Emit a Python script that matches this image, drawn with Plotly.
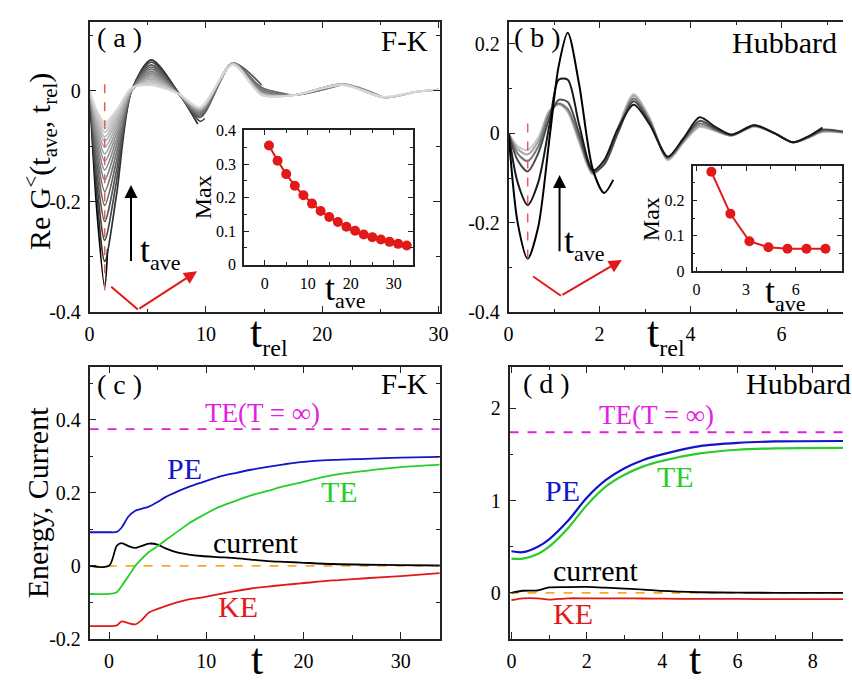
import plotly.graph_objects as go

W, H = 852, 682
def X(p): return p / W
def Y(p): return 1 - p / H

FONT = "Liberation Serif"

# ---------------- panel (a): F-K, Re G<(t_ave, t_rel) ----------------
A_T = [0, 0.6, 1.3, 2.3, 3.6, 5.3, 7.6, 9.5, 12.3, 14.8, 17.5, 21.8, 25.3, 28, 30]
A_Y = [
    [0, -0.21, -0.355],
    [0, -0.185, -0.308, -0.19, 0.0, 0.056, -0.002],
    [0, -0.162, -0.27, -0.165, 0.0, 0.052, -0.003, -0.055],
    [0, -0.142, -0.236, -0.145, 0.0, 0.047, -0.004, -0.048, 0.05, 0.01],
    [0, -0.124, -0.207, -0.128, 0.0, 0.043, -0.004, -0.045, 0.05, 0.006, -0.008],
    [0, -0.109, -0.182, -0.113, 0.0, 0.039, -0.005, -0.042, 0.05, 0.003, -0.008, 0.012],
    [0, -0.097, -0.161, -0.100, 0.0, 0.035, -0.005, -0.040, 0.05, 0.0, -0.008, 0.012],
    [0, -0.086, -0.143, -0.089, 0.0, 0.032, -0.005, -0.038, 0.05, -0.002, -0.008, 0.012, -0.012],
    [0, -0.076, -0.127, -0.079, 0.0, 0.029, -0.005, -0.036, 0.05, -0.003, -0.008, 0.012, -0.012],
    [0, -0.068, -0.114, -0.071, 0.0, 0.026, -0.005, -0.035, 0.049, -0.004, -0.008, 0.012, -0.012, -0.002],
    [0, -0.061, -0.102, -0.063, 0.0, 0.023, -0.005, -0.034, 0.049, -0.005, -0.008, 0.012, -0.012, -0.002, 0.002],
    [0, -0.055, -0.091, -0.056, 0.002, 0.021, -0.005, -0.033, 0.049, -0.006, -0.008, 0.012, -0.012, -0.002, 0.002],
    [0, -0.050, -0.083, -0.051, 0.003, 0.018, -0.005, -0.032, 0.048, -0.006, -0.008, 0.011, -0.012, -0.002, 0.002],
    [0, -0.045, -0.075, -0.046, 0.004, 0.016, -0.005, -0.031, 0.048, -0.007, -0.008, 0.011, -0.012, -0.002, 0.002],
    [0, -0.041, -0.068, -0.042, 0.004, 0.014, -0.005, -0.031, 0.048, -0.007, -0.008, 0.011, -0.012, -0.002, 0.002],
    [0, -0.037, -0.062, -0.038, 0.005, 0.012, -0.005, -0.030, 0.048, -0.008, -0.008, 0.011, -0.011, -0.002, 0.002],
    [0, -0.034, -0.057, -0.035, 0.005, 0.010, -0.005, -0.030, 0.047, -0.008, -0.008, 0.010, -0.011, -0.002, 0.002],
]
A_END_T = [1.55, 9.3, 9.9] + [None] * 14
A_END_Y = [-0.286, -0.06, -0.05] + [None] * 14

# inset (a)
IA_T = [1, 3, 5, 7, 9, 11, 13, 15, 17, 19, 21, 23, 25, 27, 29, 31, 33]
IA_MAX = [0.355, 0.31, 0.27, 0.235, 0.207, 0.182, 0.16, 0.142, 0.127, 0.113,
          0.101, 0.09, 0.082, 0.075, 0.068, 0.062, 0.057]

# ---------------- panel (b): Hubbard ----------------
B_T = [0, 0.2, 0.42, 0.65, 0.9, 1.1, 1.3, 1.55, 1.85, 2.1, 2.4, 2.75, 3.1, 3.5,
       3.85, 4.2, 4.55, 4.9, 5.4, 5.85, 6.25, 6.6, 6.9, 7.35]
B_Y = [
    [0, -0.2, -0.28, -0.21, -0.01, 0.15, 0.225, 0.11, -0.08, -0.133],
    [0, -0.11, -0.16, -0.11, 0.02, 0.12, 0.12, 0.02, -0.082, -0.06, 0.01, 0.064, 0.02,
     -0.052, -0.01, 0.036, 0.014, -0.003, 0.018, 0.0, -0.02, -0.006, 0.013],
    [0, -0.06, -0.085, -0.045, 0.035, 0.075, 0.07, 0.0, -0.085, -0.07, 0.0, 0.072, 0.025,
     -0.053, -0.012, 0.028, 0.01, -0.003, 0.018, 0.0, -0.02, -0.007, 0.008, 0.004],
    [0, -0.045, -0.062, -0.03, 0.045, 0.067, 0.055, -0.01, -0.088, -0.067, 0.005, 0.078, 0.028,
     -0.055, -0.015, 0.022, 0.008, -0.004, 0.017, 0.0, -0.02, -0.008, 0.006, 0.003],
    [0, -0.035, -0.047, -0.018, 0.05, 0.066, 0.05, -0.015, -0.09, -0.066, 0.01, 0.084, 0.032,
     -0.058, -0.018, 0.017, 0.006, -0.005, 0.016, 0.0, -0.02, -0.009, 0.004, 0.002],
    [0, -0.028, -0.037, -0.01, 0.052, 0.065, 0.048, -0.02, -0.092, -0.064, 0.012, 0.088, 0.035,
     -0.06, -0.02, 0.014, 0.005, -0.005, 0.015, 0.0, -0.02, -0.01, 0.003, 0.002],
]
B_END_T = [2.3, None, None, None, None, None]
B_END_Y = [-0.104, None, None, None, None, None]

# inset (b)
IB_T = [0.9, 2.05, 3.2, 4.35, 5.5, 6.65, 7.8]
IB_MAX = [0.28, 0.162, 0.085, 0.068, 0.064, 0.064, 0.064]

# ---------------- panel (c): F-K energies ----------------
C_T = [-2, 0, 0.8, 1.3, 2.0, 2.7, 3.3, 4.1, 5.0, 5.8, 7.0, 8.2, 9.5, 11.2, 13,
       14.6, 16.3, 18, 19.7, 23, 26.4, 30, 34]
C_PE = [0.092, 0.092, 0.093, 0.105, 0.135, 0.151, 0.156, 0.162, 0.175, 0.188, 0.203,
        0.216, 0.228, 0.243, 0.254, 0.263, 0.271, 0.278, 0.284, 0.29, 0.293, 0.296, 0.298]
C_TE = [-0.077, -0.077, -0.072, -0.055, -0.028, 0.0, 0.018, 0.038, 0.054, 0.07, 0.093,
        0.116, 0.136, 0.16, 0.178, 0.193, 0.205, 0.218, 0.228, 0.248, 0.26, 0.27, 0.277]
C_KE = [-0.165, -0.165, -0.163, -0.152, -0.157, -0.16, -0.15, -0.128, -0.118, -0.11,
        -0.1, -0.092, -0.087, -0.078, -0.069, -0.062, -0.057, -0.052, -0.048, -0.04,
        -0.034, -0.028, -0.02]
C_CUR = [0, 0, 0.055, 0.062, 0.054, 0.049, 0.054, 0.061, 0.058, 0.048, 0.037, 0.031,
         0.027, 0.024, 0.021, 0.017, 0.013, 0.011, 0.009, 0.005, 0.003, 0.002, 0.001]
C_TE_INF = 0.374
C_XLIM = [-2, 34]

# ---------------- panel (d): Hubbard energies ----------------
D_T = [0, 0.3, 0.7, 1.0, 1.5, 2.0, 2.5, 3.0, 3.5, 4.0, 5.0, 6.0, 7.0, 8.8]
D_PE = [0.45, 0.44, 0.5, 0.58, 0.78, 1.03, 1.22, 1.35, 1.44, 1.5, 1.59, 1.625, 1.64, 1.645]
D_TE = [0.37, 0.37, 0.42, 0.5, 0.7, 0.95, 1.15, 1.28, 1.37, 1.43, 1.51, 1.55, 1.565, 1.57]
D_KE = [-0.08, -0.06, -0.06, -0.075, -0.06, -0.06, -0.06, -0.06, -0.062, -0.064,
        -0.066, -0.067, -0.068, -0.068]
D_CUR = [0, 0.022, 0.027, 0.058, 0.062, 0.063, 0.055, 0.045, 0.035, 0.02, 0.006, 0.001, 0, 0]
D_TE_INF = 1.74
D_XLIM = [-0.05, 8.8]

BLUE = "rgb(20,20,200)"
GREEN = "rgb(40,205,40)"
RED = "rgb(225,25,25)"
MAG = "rgb(225,30,225)"
ORANGE = "rgb(245,170,40)"

fig = go.Figure()

def curve(x, y, xa, ya, color, width=1.8, dash=None, shape="spline"):
    fig.add_trace(go.Scatter(x=x, y=y, xaxis=xa, yaxis=ya, mode="lines",
                             line=dict(color=color, width=width, dash=dash, shape=shape,
                                       smoothing=0.8 if shape == "spline" else None),
                             showlegend=False, hoverinfo="skip"))

# panel a curves (dark first, lighter on top as in the tails of the reference)
nA = len(A_Y)
for k in range(nA):
    xs = A_T[:len(A_Y[k])]
    ys = list(A_Y[k])
    if A_END_T[k] is not None:
        xs = xs + [A_END_T[k]]
        ys = ys + [A_END_Y[k]]
    g = int(round(215 * (k / (nA - 1)) ** 0.55))
    curve(xs, ys, "x", "y", f"rgb({g},{g},{g})", 1.7)

# panel b curves
nB = len(B_Y)
B_GRAY = [0, 25, 75, 120, 165, 200]
for k in reversed(range(nB)):
    xs = B_T[:len(B_Y[k])]
    ys = list(B_Y[k])
    if B_END_T[k] is not None:
        xs = xs + [B_END_T[k]]
        ys = ys + [B_END_Y[k]]
    g = B_GRAY[k]
    curve(xs, ys, "x2", "y2", f"rgb({g},{g},{g})", 2.0)

# panel c
curve(C_XLIM, [C_TE_INF, C_TE_INF], "x3", "y3", MAG, 1.8, "dash", "linear")
curve(C_XLIM, [0, 0], "x3", "y3", ORANGE, 1.8, "dash", "linear")
curve(C_T, C_CUR, "x3", "y3", "black", 1.8)
curve(C_T, C_KE, "x3", "y3", RED, 1.8)
curve(C_T, C_TE, "x3", "y3", GREEN, 1.8)
curve(C_T, C_PE, "x3", "y3", BLUE, 1.8)

# panel d
curve(D_XLIM, [D_TE_INF, D_TE_INF], "x4", "y4", MAG, 1.8, "dash", "linear")
curve(D_XLIM, [0, 0], "x4", "y4", ORANGE, 1.8, "dash", "linear")
curve(D_T, D_CUR, "x4", "y4", "black", 1.8)
curve(D_T, D_KE, "x4", "y4", RED, 1.8)
curve(D_T, D_TE, "x4", "y4", GREEN, 2.2)
curve(D_T, D_PE, "x4", "y4", BLUE, 2.2)

# insets
fig.add_trace(go.Scatter(x=IA_T, y=IA_MAX, xaxis="x5", yaxis="y5", mode="lines+markers",
                         line=dict(color=RED, width=2), marker=dict(color=RED, size=10),
                         showlegend=False, hoverinfo="skip"))
fig.add_trace(go.Scatter(x=IB_T, y=IB_MAX, xaxis="x6", yaxis="y6", mode="lines+markers",
                         line=dict(color=RED, width=2), marker=dict(color=RED, size=10),
                         showlegend=False, hoverinfo="skip"))

LC = "#222"
def axis(domain, rng, tv, tt, minor_dtick, anchor, size=20, mirror="allticks",
         ticklen=7, mlen=4, minor_tick0=0):
    return dict(domain=domain, range=rng, tickmode="array", tickvals=tv, ticktext=tt,
                ticks="inside", ticklen=ticklen, tickwidth=1, tickcolor=LC,
                showline=True, linecolor=LC, linewidth=1.5, mirror=mirror,
                showgrid=False, zeroline=False, anchor=anchor,
                tickfont=dict(family=FONT, size=size, color="black"),
                ticklabelstandoff=3,
                minor=dict(tickmode="linear", tick0=minor_tick0, dtick=minor_dtick,
                           ticks="inside", ticklen=mlen, tickwidth=1, tickcolor=LC,
                           showgrid=False))

A_XT = [0, 10, 20, 30]
A_YT = [0, -0.2, -0.4]
B_XT = [0, 2, 4, 6]
B_YT = [0.2, 0, -0.2, -0.4]
C_XT = [0, 10, 20, 30]
C_YT = [0.4, 0.2, 0, -0.2]
D_XT = [0, 2, 4, 6, 8]
D_YT = [2, 1, 0]
IA_XT = [0, 10, 20, 30]
IA_YT = [0, 0.1, 0.2, 0.3, 0.4]
IB_XT = [0, 3, 6]
IB_YT = [0, 0.1, 0.2]

def lab(v):
    return "%g" % v

dom_a = [X(86), X(442)]
dom_b = [X(512), 1.0]
dom_top = [Y(313), Y(14)]
dom_c = [X(86), X(442)]
dom_d = [X(513), 1.0]
dom_bot = [Y(649), Y(369)]

fig.update_layout(
    width=W, height=H, margin=dict(l=0, r=0, t=0, b=0),
    paper_bgcolor="white", plot_bgcolor="rgba(0,0,0,0)",
    xaxis=axis(dom_a, [0, 30.1], A_XT, [lab(v) for v in A_XT], 5, "y"),
    yaxis=axis(dom_top, [-0.4, 0.125], A_YT, [lab(v) for v in A_YT], 0.1, "x"),
    xaxis2=axis(dom_b, [0, 7.35], B_XT, [lab(v) for v in B_XT], 1, "y2"),
    yaxis2=axis(dom_top, [-0.4, 0.25], B_YT, [lab(v) for v in B_YT], 0.1, "x2", mirror=False),
    xaxis3=axis(dom_c, C_XLIM, C_XT, [lab(v) for v in C_XT], 5, "y3"),
    yaxis3=axis(dom_bot, [-0.2, 0.545], C_YT, [lab(v) for v in C_YT], 0.1, "x3"),
    xaxis4=axis(dom_d, D_XLIM, D_XT, [lab(v) for v in D_XT], 1, "y4"),
    yaxis4=axis(dom_bot, [-0.5, 2.45], D_YT, [lab(v) for v in D_YT], 0.5, "x4", mirror=False),
    xaxis5=axis([X(243), X(415)], [-4.8, 34.5], IA_XT, [lab(v) for v in IA_XT], 5, "y5",
                size=16, ticklen=5, mlen=3),
    yaxis5=axis([Y(264), Y(126)], [0, 0.4], IA_YT, [lab(v) for v in IA_YT], 0.05, "x5",
                size=16, ticklen=5, mlen=3),
    xaxis6=axis([X(699), X(851)], [-0.24, 8.8], IB_XT, [lab(v) for v in IB_XT], 1.5, "y6",
                size=16, ticklen=5, mlen=3),
    yaxis6=axis([Y(271), Y(163)], [0, 0.295], IB_YT, [lab(v) for v in IB_YT], 0.05, "x6",
                size=16, ticklen=5, mlen=3),
)

ann = []
def text(t, x, y, size, color="black", xanchor="center", yanchor="middle", angle=0):
    ann.append(dict(text=t, x=X(x), y=Y(y), xref="paper", yref="paper", showarrow=False,
                    xanchor=xanchor, yanchor=yanchor, textangle=angle,
                    font=dict(family=FONT, size=size, color=color)))

def tsub(sub, big, small):
    return 't<sub><span style="font-size:%dpx">%s</span></sub>' % (small, sub)

# panel a texts
text("( a )", 92, 30, 28, xanchor="left")
text("F-K", 432, 34, 29, xanchor="right")
text("Re G<sup>&lt;</sup>(t<sub>ave</sub>, t<sub>rel</sub>)", 36, 158, 30, angle=-90)
text(tsub("rel", 44, 24), 247, 336, 44, xanchor="left")
text(tsub("ave", 36, 22), 135, 252, 36, xanchor="left")
# inset a
text("Max", 201, 195, 24, angle=-90)
text(tsub("ave", 36, 22), 323, 291, 36, xanchor="left")
# panel b texts
text("( b )", 515, 30, 28, xanchor="left")
text("Hubbard", 848, 35, 30, xanchor="right")
text(tsub("rel", 44, 24), 651, 336, 44, xanchor="left")
text(tsub("ave", 36, 22), 566, 242, 36, xanchor="left")
text("Max", 657, 217, 24, angle=-90)
text(tsub("ave", 36, 22), 771, 294, 36, xanchor="left")
# panel c texts
text("( c )", 92, 387, 28, xanchor="left")
text("F-K", 432, 387, 29, xanchor="right")
text("Energy, Current", 33, 509, 30, angle=-90)
text("t", 256, 670, 44)
text("TE(T = ∞)", 262, 417, 27, MAG)
text("PE", 183, 474, 30, BLUE)
text("TE", 340, 497, 30, GREEN)
text("current", 255, 550, 30)
text("KE", 237, 616, 30, RED)
# panel d texts
text("( d )", 525, 386, 28, xanchor="left")
text("Hubbard", 862, 386, 30, xanchor="right")
text("t", 702, 670, 44)
text("TE(T = ∞)", 662, 419, 27, MAG)
text("PE", 567, 496, 30, BLUE)
text("TE", 682, 482, 30, GREEN)
text("current", 601, 579, 30)
text("KE", 577, 623, 30, RED)

# arrows
def arrow(xa, ya, x0, y0, x1, y1, color, width=2, head=2, size=1.3):
    ann.append(dict(x=x1, y=y1, ax=x0, ay=y0, xref=xa, yref=ya, axref=xa, ayref=ya,
                    text="", showarrow=True, arrowhead=head, arrowsize=size,
                    arrowwidth=width, arrowcolor=color))

arrow("x", "y", 3.56, -0.31, 3.56, -0.17, "black")
arrow("x", "y", 4.15, -0.395, 9.24, -0.326, RED)
arrow("x2", "y2", 1.12, -0.267, 1.12, -0.093, "black")
arrow("x2", "y2", 1.15, -0.363, 2.49, -0.283, RED)

shapes = [
    dict(type="line", xref="x", yref="y", x0=1.86, y0=-0.354, x1=4.15, y1=-0.395,
         line=dict(color=RED, width=2)),
    dict(type="line", xref="x2", yref="y2", x0=0.54, y0=-0.32, x1=1.15, y1=-0.363,
         line=dict(color=RED, width=2)),
    dict(type="line", xref="x", yref="y", x0=1.3, y0=0.012, x1=1.3, y1=-0.36,
         line=dict(color="rgb(235,90,90)", width=1.5, dash="dash")),
    dict(type="line", xref="x2", yref="y2", x0=0.42, y0=0.022, x1=0.42, y1=-0.3,
         line=dict(color="rgb(235,90,90)", width=1.5, dash="dash")),
]

fig.update_layout(annotations=ann, shapes=shapes)
fig.write_html("out.html")
